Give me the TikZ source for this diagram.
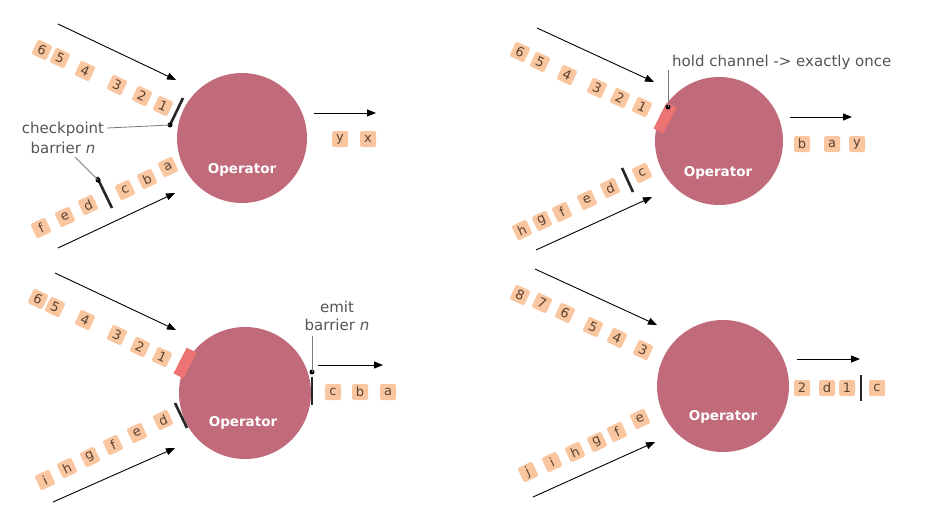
\documentclass[tikz,border=0pt]{standalone}
\usepackage{fontspec}
\setmainfont{DejaVu Sans}
\usetikzlibrary{arrows.meta}
\definecolor{opfill}{HTML}{C06A7A}
\definecolor{tokfill}{HTML}{F9C6A0}
\definecolor{toktext}{HTML}{5A4232}
\definecolor{holdred}{HTML}{EE7474}
\definecolor{labgray}{HTML}{555555}
\definecolor{leadgray}{HTML}{7A7A7A}
\tikzset{
  opc/.style={circle, fill=opfill, draw=none, minimum size=#1, inner sep=0pt},
  optext/.style={text=white, font=\fontsize{13.5}{15}\selectfont\bfseries, inner sep=0pt},
  tok/.style={fill=tokfill, rounded corners=1.5pt, minimum size=16pt, inner sep=0pt, text=toktext, font=\fontsize{13}{14}\selectfont},
  flow/.style={line width=0.9pt, -{Triangle[length=9pt,width=7pt]}},
  barrierline/.style={line width=2.6pt, color=black!85, line cap=butt},
  holdbox/.style={fill=holdred, minimum width=11pt, minimum height=29pt, inner sep=0pt},
  lead/.style={leadgray, line width=0.8pt},
  dotc/.style={circle, fill=black, minimum size=5pt, inner sep=0pt},
  lab/.style={text=labgray, font=\fontsize{15}{16}\selectfont, inner sep=0pt}
}
\begin{document}
\begin{tikzpicture}[x=1pt,y=-1pt]
\useasboundingbox[fill=white] (0,0) rectangle (950,519);

% ================= Panel 1 =================
\node[opc=130pt] (op1) at (242,138) {};
\node[optext] (op1t) at (242,170) {Operator};
\coordinate (i1as) at (58,24); \coordinate (i1ae) at (176,80);
\coordinate (i1bs) at (58,248); \coordinate (i1be) at (175,193);
\coordinate (o1s) at (314,113); \coordinate (o1e) at (376,113);
\draw[flow] (i1as) -- (i1ae);
\draw[flow] (i1bs) -- (i1be);
\draw[flow] (o1s) -- (o1e);
\node[tok,rotate=-25] (t1a6) at (42,50) {6};
\node[tok,rotate=-25] (t1a5) at (60,58) {5};
\node[tok,rotate=-25] (t1a4) at (85,71) {4};
\node[tok,rotate=-25] (t1a3) at (117,85) {3};
\node[tok,rotate=-25] (t1a2) at (142,96) {2};
\node[tok,rotate=-25] (t1a1) at (163,106) {1};
\node[tok,rotate=25] (t1ba) at (168,167) {a};
\node[tok,rotate=25] (t1bb) at (147,179) {b};
\node[tok,rotate=25] (t1bc) at (125,190) {c};
\node[tok,rotate=25] (t1bd) at (88,205) {d};
\node[tok,rotate=25] (t1be) at (65,217) {e};
\node[tok,rotate=25] (t1bf) at (41,228) {f};
\node[tok] (t1oy) at (340,139) {y};
\node[tok] (t1ox) at (368,139) {x};
\coordinate (b1at) at (183,98); \coordinate (b1ab) at (170,125);
\draw[barrierline] (b1at) -- (b1ab);
\coordinate (b1bt) at (97,177); \coordinate (b1bb) at (112,208);
\draw[barrierline] (b1bt) -- (b1bb);
\node[lab] (cp1) at (63,129) {checkpoint};
\node[lab] (cp2) at (63,148) {barrier \textit{n}};
\node[dotc] (d1a) at (170,125) {};
\node[dotc] (d1b) at (98,180) {};
\draw[lead] (cp1.east) ++(3,-1) -- (d1a.center);
\coordinate (cp2l) at (75,157);
\draw[lead] (cp2l) -- (d1b.center);

% ================= Panel 2 =================
\node[opc=128pt] (op2) at (719,141) {};
\node[optext] (op2t) at (718,173) {Operator};
\coordinate (i2as) at (537,28); \coordinate (i2ae) at (654,82);
\coordinate (i2bs) at (536,250); \coordinate (i2be) at (652,197);
\coordinate (o2s) at (790,117); \coordinate (o2e) at (852,117);
\draw[flow] (i2as) -- (i2ae);
\draw[flow] (i2bs) -- (i2be);
\draw[flow] (o2s) -- (o2e);
\node[tok,rotate=-25] (t2a6) at (520,52) {6};
\node[tok,rotate=-25] (t2a5) at (540,62) {5};
\node[tok,rotate=-25] (t2a4) at (567,75) {4};
\node[tok,rotate=-25] (t2a3) at (597,88) {3};
\node[tok,rotate=-25] (t2a2) at (620,98) {2};
\node[tok,rotate=-25] (t2a1) at (642,107) {1};
\node[holdbox,rotate=-27] (h2) at (665,118) {};
\node[tok,rotate=25] (t2bc) at (642,173) {c};
\node[tok,rotate=25] (t2bd) at (610,188) {d};
\node[tok,rotate=25] (t2be) at (587,200) {e};
\node[tok,rotate=25] (t2bf) at (562,212) {f};
\node[tok,rotate=25] (t2bg) at (542,221) {g};
\node[tok,rotate=25] (t2bh) at (522,230) {h};
\coordinate (b2t) at (622,168); \coordinate (b2b) at (633,192);
\draw[barrierline] (b2t) -- (b2b);
\node[tok] (t2ob) at (802,144) {b};
\node[tok] (t2oa) at (832,144) {a};
\node[tok] (t2oy) at (857,144) {y};
\node[dotc] (d2) at (668,107) {};
\coordinate (l2top) at (668,70);
\draw[lead] (d2.center) -- (l2top);
\node[lab,anchor=west] (hold) at (672,62) {hold channel -> exactly once};

% ================= Panel 3 =================
\node[opc=132pt] (op3) at (245,393) {};
\node[optext] (op3t) at (243,423) {Operator};
\coordinate (i3as) at (55,273); \coordinate (i3ae) at (176,330);
\coordinate (i3bs) at (53,502); \coordinate (i3be) at (175,448);
\coordinate (o3s) at (318,365); \coordinate (o3e) at (383,365);
\draw[flow] (i3as) -- (i3ae);
\draw[flow] (i3bs) -- (i3be);
\draw[flow] (o3s) -- (o3e);
\node[tok,rotate=-25] (t3a6) at (38,299) {6};
\node[tok,rotate=-25] (t3a5) at (55,307) {5};
\node[tok,rotate=-25] (t3a4) at (85,320) {4};
\node[tok,rotate=-25] (t3a3) at (117,335) {3};
\node[tok,rotate=-25] (t3a2) at (140,347) {2};
\node[tok,rotate=-25] (t3a1) at (162,357) {1};
\node[holdbox,rotate=-27] (h3) at (185,363) {};
\coordinate (b3t) at (175,403); \coordinate (b3b) at (187,428);
\draw[barrierline] (b3t) -- (b3b);
\node[tok,rotate=25] (t3bd) at (163,420) {d};
\node[tok,rotate=25] (t3be) at (137,433) {e};
\node[tok,rotate=25] (t3bf) at (113,445) {f};
\node[tok,rotate=25] (t3bg) at (90,457) {g};
\node[tok,rotate=25] (t3bh) at (67,468) {h};
\node[tok,rotate=25] (t3bi) at (45,480) {i};
\coordinate (b3ot) at (312,377); \coordinate (b3ob) at (312,405);
\draw[barrierline] (b3ot) -- (b3ob);
\node[dotc] (d3) at (312,372) {};
\coordinate (l3top) at (312,336);
\draw[lead] (d3.center) -- (l3top);
\node[lab] (em1) at (337,307) {emit};
\node[lab] (em2) at (337,325) {barrier \textit{n}};
\node[tok] (t3oc) at (333,392) {c};
\node[tok] (t3ob) at (360,392) {b};
\node[tok] (t3oa) at (388,392) {a};

% ================= Panel 4 =================
\node[opc=132pt] (op4) at (723,386) {};
\node[optext] (op4t) at (723,417) {Operator};
\coordinate (i4as) at (535,269); \coordinate (i4ae) at (657,325);
\coordinate (i4bs) at (533,497); \coordinate (i4be) at (655,442);
\coordinate (o4s) at (797,359); \coordinate (o4e) at (860,359);
\draw[flow] (i4as) -- (i4ae);
\draw[flow] (i4bs) -- (i4be);
\draw[flow] (o4s) -- (o4e);
\node[tok,rotate=-25] (t4a8) at (520,295) {8};
\node[tok,rotate=-25] (t4a7) at (542,303) {7};
\node[tok,rotate=-25] (t4a6) at (565,313) {6};
\node[tok,rotate=-25] (t4a5) at (593,327) {5};
\node[tok,rotate=-25] (t4a4) at (617,338) {4};
\node[tok,rotate=-25] (t4a3) at (643,350) {3};
\node[tok,rotate=25] (t4be) at (640,419) {e};
\node[tok,rotate=25] (t4bf) at (617,432) {f};
\node[tok,rotate=25] (t4bg) at (597,442) {g};
\node[tok,rotate=25] (t4bh) at (575,452) {h};
\node[tok,rotate=25] (t4bi) at (552,462) {i};
\node[tok,rotate=25] (t4bj) at (528,472) {j};
\node[tok] (t4o2) at (802,388) {2};
\node[tok] (t4od) at (827,388) {d};
\node[tok] (t4o1) at (847,388) {1};
\coordinate (b4t) at (861,375); \coordinate (b4b) at (861,401);
\draw[barrierline] (b4t) -- (b4b);
\node[tok] (t4oc) at (877,388) {c};
\end{tikzpicture}
\end{document}
